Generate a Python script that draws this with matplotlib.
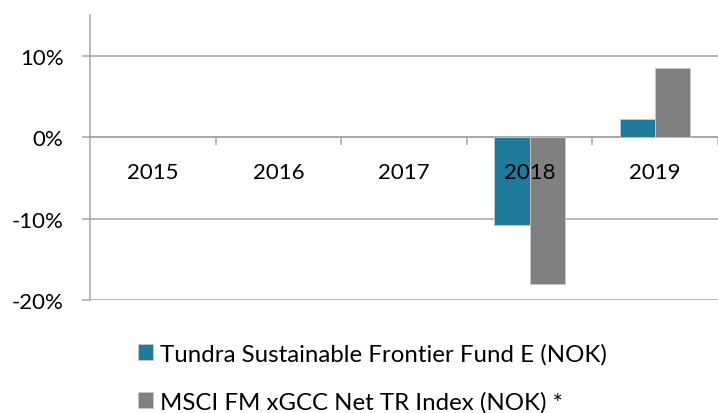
import numpy as np
from matplotlib import pyplot as plt
from matplotlib.ticker import FuncFormatter

years = ["2015", "2016", "2017", "2018", "2019"]
fund = [np.nan, np.nan, np.nan, -10.8, 2.2]
index = [np.nan, np.nan, np.nan, -18.0, 8.5]
labels = ["Tundra Sustainable Frontier Fund E (NOK)", "MSCI FM xGCC Net TR Index (NOK) *"]
colors = ["#1F7A9B", "#808080"]

plt.rcParams['font.family'] = ['Lato', 'DejaVu Sans']
plt.rcParams['font.size'] = 16

fig = plt.figure(figsize=(7.18, 4.14), dpi=100)
ax = fig.add_axes([90 / 718, 1 - 301 / 414, 1 - 90 / 718, 285 / 414])

x = np.arange(len(years))
w = 0.28
ax.bar(x - w / 2, fund, w, color=colors[0], edgecolor='#c8c8c8', linewidth=0.6, label=labels[0], zorder=3)
ax.bar(x + w / 2, index, w, color=colors[1], edgecolor='#c8c8c8', linewidth=0.6, label=labels[1], zorder=3)

grid_c = '#a6a6a6'
ax.set_xlim(-0.5, len(years) - 0.5)
ax.set_ylim(-20, 15)
ax.set_yticks([-20, -10, 0, 10])
ax.yaxis.set_major_formatter(FuncFormatter(lambda v, p: f"{v:.0f}%"))
ax.yaxis.grid(True, color=grid_c, linewidth=1.1)
ax.tick_params(axis='y', length=6, width=1.1, color=grid_c, pad=13)

# x axis sits on the 0% line, category labels just below it (drawn over the bars)
ax.spines['bottom'].set_position(('data', 0))
ax.spines['bottom'].set_color(grid_c)
ax.spines['bottom'].set_linewidth(1.1)
ax.spines['left'].set_color(grid_c)
ax.spines['left'].set_linewidth(1.1)
ax.spines['top'].set_visible(False)
ax.spines['right'].set_visible(False)
ax.set_xticks(x)
ax.set_xticklabels(years)
ax.tick_params(axis='x', which='major', length=0, pad=18)
ax.set_xticks(np.arange(len(years)) + 0.5, minor=True)
ax.tick_params(axis='x', which='minor', length=6, width=1.1, color=grid_c, direction='out')
ax.xaxis.set_zorder(4)

fig.legend(loc='upper left', bbox_to_anchor=(138 / 718, 1 - 344 / 414), frameon=False,
           fontsize=17.3, handlelength=0.62, handleheight=0.62, handletextpad=0.3,
           labelspacing=1.1, borderpad=0, borderaxespad=0)

plt.savefig('out.png', dpi=100)
